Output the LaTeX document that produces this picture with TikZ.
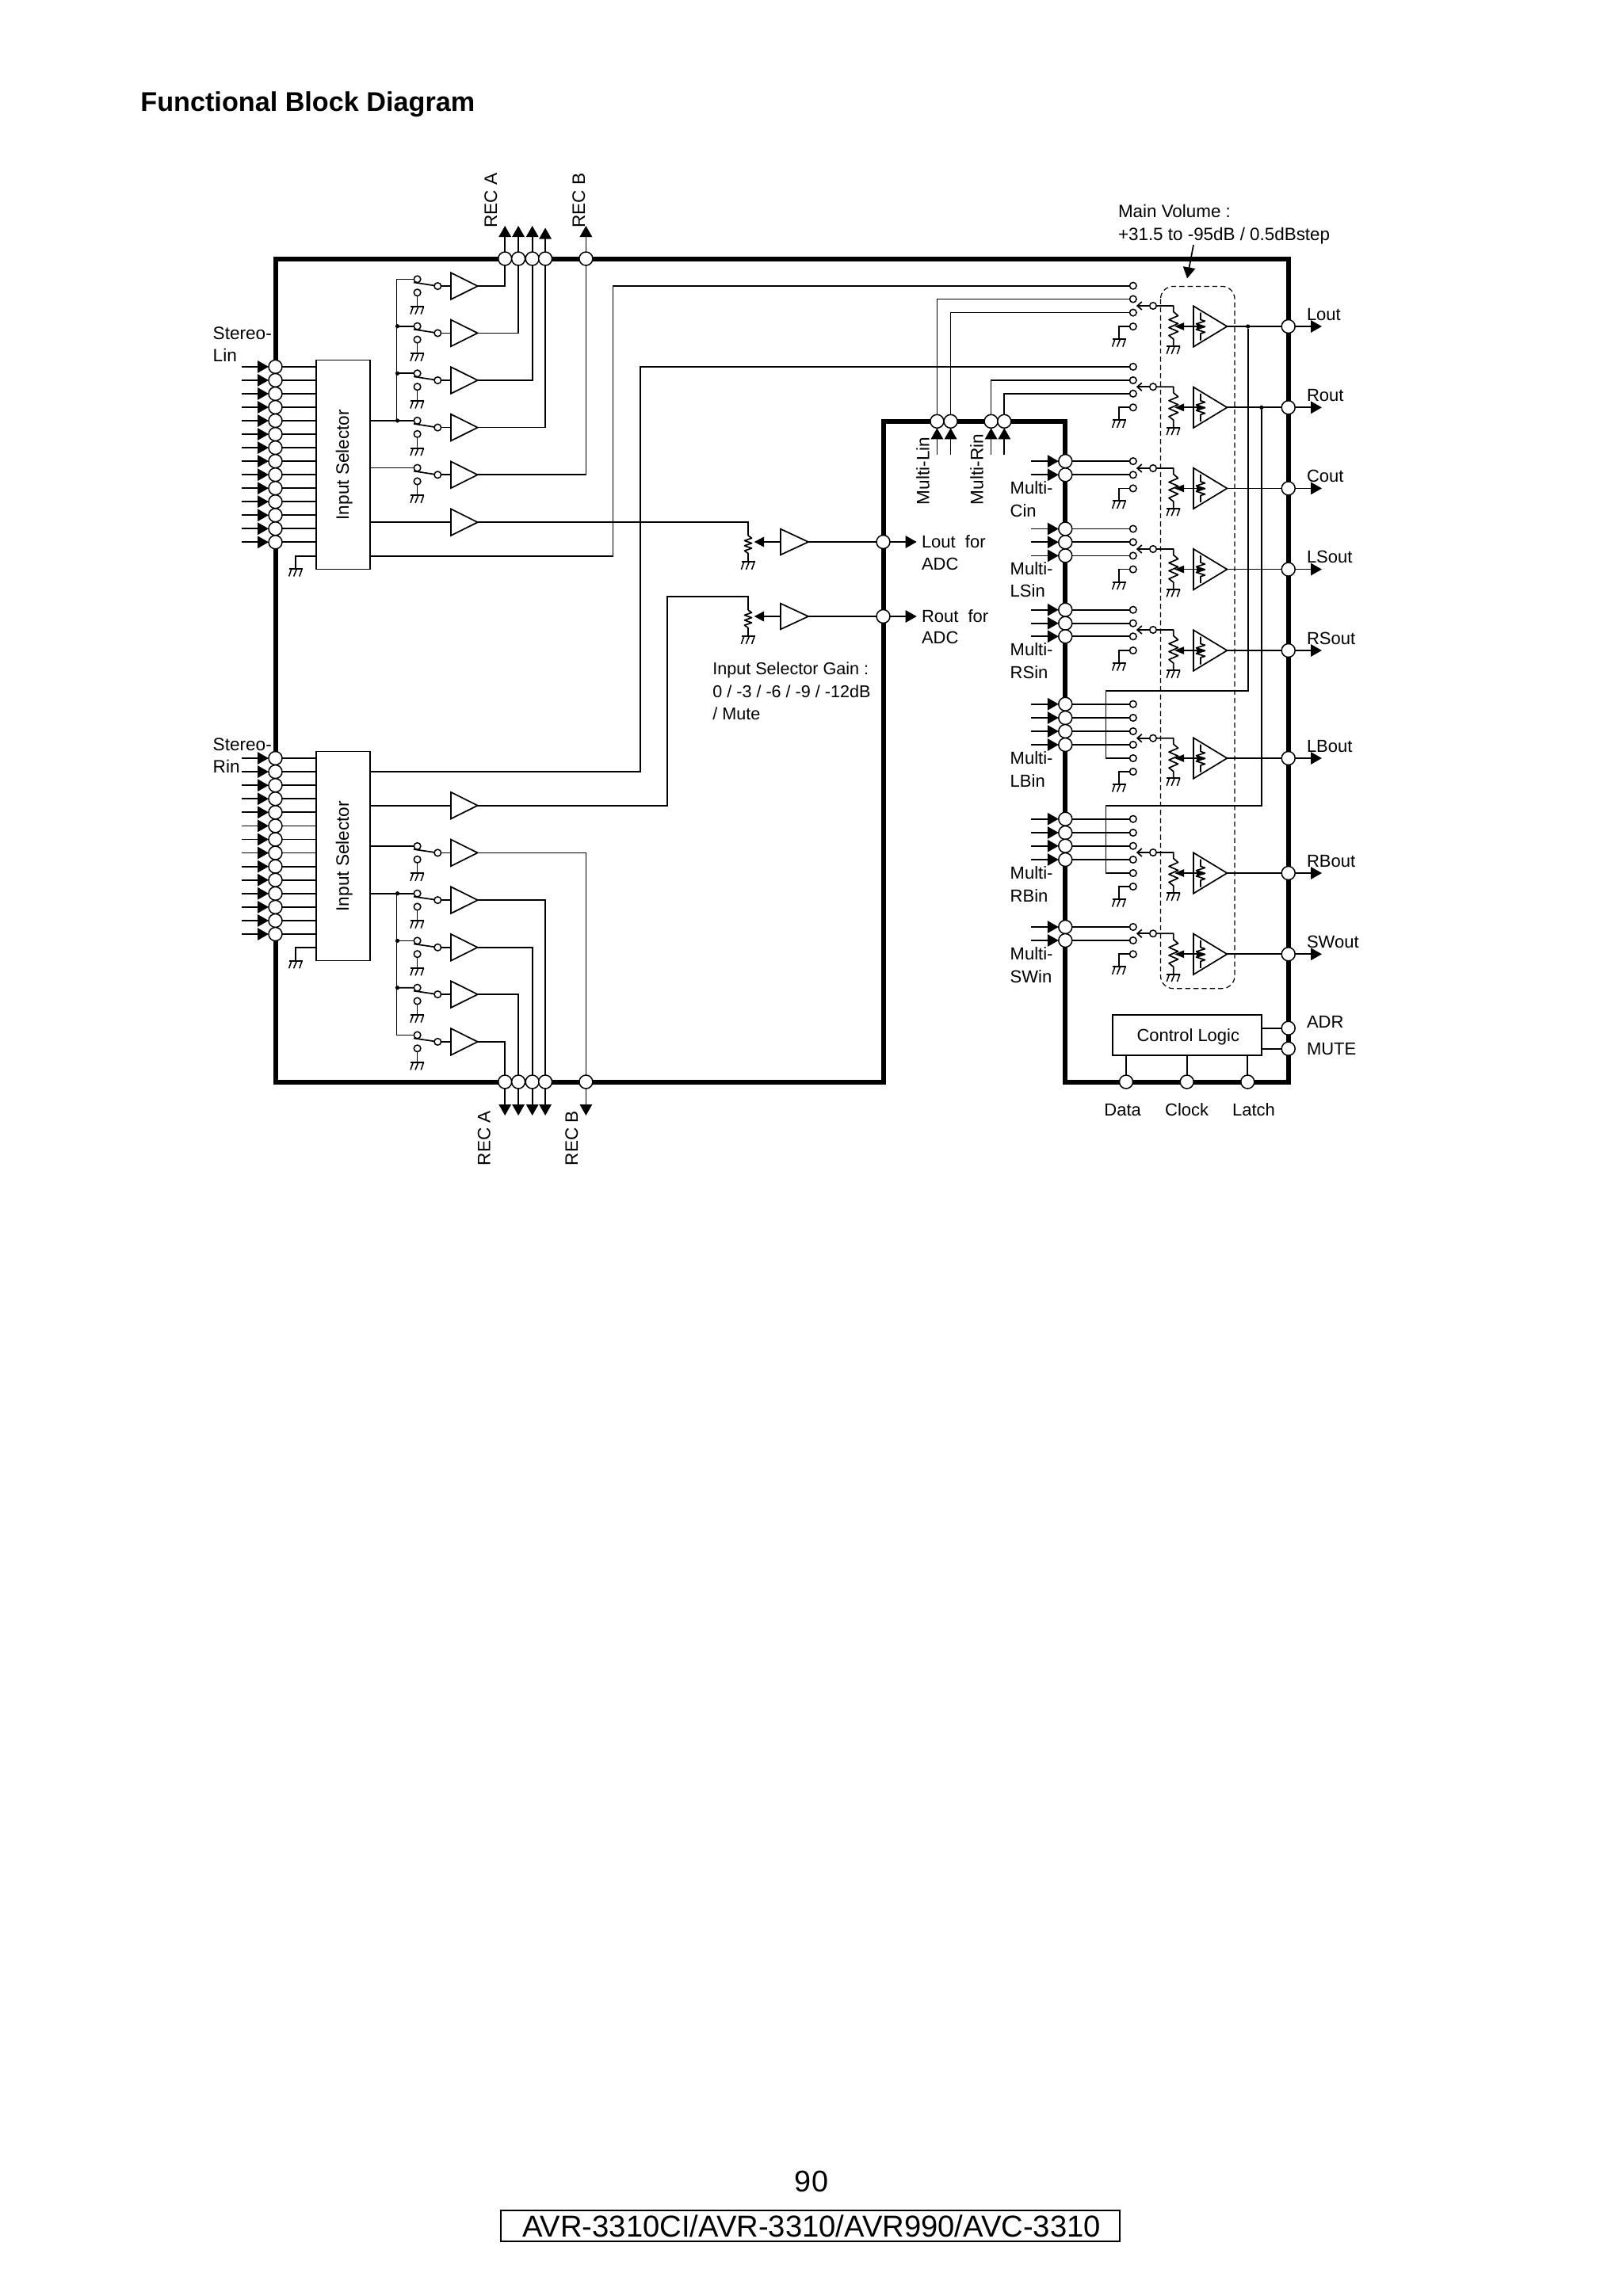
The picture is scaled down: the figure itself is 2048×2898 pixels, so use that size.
\documentclass[tikz,border=0pt]{standalone}
\usepackage{fontspec}
\setmainfont{Liberation Sans}
\usetikzlibrary{arrows.meta,calc,shapes.geometric}
\tikzset{
  wire/.style={line width=0.85pt,line join=miter},
  arr/.style={wire,-{Triangle[length=7pt,width=7.7pt]}},
  arrm/.style={wire,-{Triangle[length=6.2pt,width=6.3pt]}},
  arrw/.style={wire,-{Triangle[length=6pt,width=4.6pt]}},
  arrp/.style={wire,-{Straight Barb[length=2.8pt,width=5pt]}},
  pinn/.style={circle,draw,fill=white,line width=0.75pt,inner sep=0pt,outer sep=0pt,minimum size=8.5pt},
  sc/.style={circle,draw,fill=white,line width=0.75pt,inner sep=0pt,outer sep=0pt,minimum size=4.3pt},
  dotn/.style={circle,fill=black,inner sep=0pt,outer sep=0pt,minimum size=2.6pt},
  blk/.style={rectangle,draw,fill=white,line width=0.85pt,inner sep=0pt,outer sep=0pt},
  buf/.style={isosceles triangle,isosceles triangle stretches,shape border rotate=0,draw,fill=white,line width=0.85pt,inner sep=0pt,outer sep=0pt,minimum width=16.8pt,minimum height=16.85pt,anchor=lower side},
  midbuf/.style={buf,minimum width=16.3pt,minimum height=17.5pt},
  amp/.style={buf,minimum width=25.7pt,minimum height=21.2pt},
  txt/.style={inner sep=0pt,outer sep=0pt,anchor=west,font=\fontsize{11}{13}\selectfont,text height=7.8pt,text depth=0pt},
  rtxt/.style={inner sep=0pt,outer sep=0pt,anchor=west,rotate=90,font=\fontsize{11.3}{13}\selectfont,text height=8.1pt,text depth=0pt},
  gndsym/.pic={
    \draw[line width=1pt] (-8.5,0) -- (8.5,0);
    \draw[line width=0.75pt] (-5.3,0) -- (-8.6,9.5) (1.3,0) -- (-2.6,9.5) (8,0) -- (4.6,9.5);
  }
}
% x y of pin, name
\newcommand\inpin[3]{%
  \node[pinn] (#1) at (#2,#3) {};
  \coordinate (#1s) at ({#2-43},#3);
  \draw[arr] (#1s) -- (#1);
}
% selector-side recording row: name, centre y, in offset, gnd offset
\newcommand\recrow[4]{%
  \node[buf] (#1b) at (569,#2) {};
  \node[sc] (#1o) at (552.3,#2) {};
  \node[sc] (#1i) at (526.6,{#2-#3}) {};
  \node[sc] (#1g) at (526.6,{#2+#4}) {};
  \coordinate (#1k) at (526.6,{#2+26});
  \draw[wire] ($(#1i)+(-4.6,4)$) -- (#1o);
  \draw[wire] (#1o) -- (#1b.lower side);
  \draw[wire] (#1g) -- (#1k);
  \pic at (#1k) {gndsym};
}
% volume channel: name, c, pole y, label
\newcommand\volch[4]{%
  \node[amp] (#1a) at (1506,#2) {};
  \node[pinn] (#1P) at (1625.7,#2) {};
  \coordinate (#1A) at (1668,#2);
  \draw[arr] (#1P) -- (#1A);
  \draw[wire] (#1a.apex) -- (#1P);
  \node[sc] (#1p) at (1455,#3) {};
  \coordinate (#1t) at (1433.9,#3);
  \draw[arrp] (#1p) -- (#1t);
  \coordinate (#1r) at (1480.8,#3);
  \coordinate (#1k) at (1480.8,{#2+25.3});
  \coordinate (#1w) at (1482,#2);
  \draw[wire,line join=round] (#1p) -- (#1r) -- ++(0,7.5) -- ++(5.8,5) -- ++(-11.6,5) -- ++(11.6,5) -- ++(-11.6,5) -- ++(11.6,5) -- ++(-11.6,5) -- ++(5.8,4.5) -- (#1k);
  \pic at (#1k) {gndsym};
  \draw[arrw] (#1a.lower side) -- (#1w);
  \draw[wire,line join=round] (1515,{#2-17.5}) -- (1515,{#2-8.5}) -- ++(5.5,1.8) -- ++(-11,3.5) -- ++(11,3.5) -- ++(-11,3.5) -- ++(11,3.5) -- ++(-5.5,1.7) -- (1515,{#2+17.5});
  \draw[wire] (1506,#2) -- (1511,#2);
  \fill (1519,#2) -- (1510,{#2-3}) -- (1510,{#2+3}) -- cycle;
  \node[txt] (#1l) at (1649,{#2-15.7}) {#4};
}
% switch-contact: name, y
\newcommand\swp[2]{\node[sc] (#1) at (1429.8,#2) {};}
\newcommand\swg[2]{%
  \node[sc] (#1) at (1429.8,#2) {};
  \coordinate (#1k) at (1412.2,{#2+16});
  \draw[wire] (#1) -| (#1k);
  \pic at (#1k) {gndsym};
}
% multichannel input: name, y
\newcommand\mi[2]{%
  \inpin{#1}{1344.3}{#2}
  \swp{#1c}{#2}
  \draw[wire] (#1) -- (#1c);
}
\begin{document}
\begin{tikzpicture}[x=0.5pt,y=-0.5pt]
\useasboundingbox (0,0) rectangle (2048,2898);
\fill[white] (0,0) rectangle (2048,2898);
% title
\node[inner sep=0pt,anchor=base west,font=\fontsize{17.1}{20}\selectfont\bfseries] (title) at (177,140) {Functional Block Diagram};
% frame
\draw[line width=3pt,line join=miter] (347.5,326.5) -- (1625.7,326.5) -- (1625.7,1365.5) -- (1344.3,1365.5) -- (1344.3,531.8) -- (1114.5,531.8) -- (1114.5,1365.5) -- (347.5,1365.5) -- cycle;
% dashed volume box
\draw[line width=0.6pt,dash pattern=on 3.2pt off 2pt,rounded corners=8pt] (1464.5,361.4) rectangle (1558,1247.7);
\coordinate (mvs) at (1506,309);
\coordinate (mve) at (1498,351.4);
\draw[arr] (mvs) -- (mve);
\node[txt,font=\fontsize{11.2}{13}\selectfont] (mv1) at (1411,266.8) {Main Volume :};
\node[txt,font=\fontsize{11.2}{13}\selectfont] (mv2) at (1411,296) {+31.5 to -95dB / 0.5dBstep};
% selectors
\node[blk,minimum width=34.1pt,minimum height=132pt] (selL) at (432.9,586.6) {};
\node[rtxt,anchor=center] (selLt) at (432,586.6) {Input Selector};
\node[blk,minimum width=34.1pt,minimum height=132pt] (selR) at (432.9,1080.6) {};
\node[rtxt,anchor=center] (selRt) at (432,1080.6) {Input Selector};
\foreach \i in {0,...,13}{
  \pgfmathsetmacro\yy{462.9+17.03*\i}
  \inpin{LP\i}{347.5}{\yy}
  \draw[wire] (LP\i) -- (selL.west |- LP\i);
  \pgfmathsetmacro\yz{957+17.08*\i}
  \inpin{RP\i}{347.5}{\yz}
  \draw[wire] (RP\i) -- (selR.west |- RP\i);
}
\node[txt,font=\fontsize{11.3}{13}\selectfont] (sl1) at (268.7,420.4) {Stereo-};
\node[txt,font=\fontsize{11.3}{13}\selectfont] (sl2) at (268.7,449) {Lin};
\node[txt,font=\fontsize{11.3}{13}\selectfont] (sr1) at (268.7,939.4) {Stereo-};
\node[txt,font=\fontsize{11.3}{13}\selectfont] (sr2) at (268.7,968) {Rin};
% selector grounds
\coordinate (selLg) at (398.8,701.8);
\coordinate (selLk) at (373.2,718);
\draw[wire] (selLg) -| (selLk);
\pic at (selLk) {gndsym};
\coordinate (selRg) at (398.8,1195.8);
\coordinate (selRk) at (373.2,1212.7);
\draw[wire] (selRg) -| (selRk);
\pic at (selRk) {gndsym};
% REC pins
\foreach \n/\x in {A1/637.2,A2/654.1,A3/671.7,A4/688.1,B1/739.4}{
  \node[pinn] (T\n) at (\x,326.5) {};
  \node[pinn] (B\n) at (\x,1365.5) {};
}
\foreach \n/\x/\t/\b in {A1/637.2/285/1408,A2/654.1/285/1408,A3/671.7/285/1408,A4/688.1/287.5/1408,B1/739.4/285/1408}{
  \coordinate (T\n a) at (\x,\t);
  \coordinate (B\n a) at (\x,\b);
  \draw[arr] (T\n) -- (T\n a);
  \draw[arr] (B\n) -- (B\n a);
}
\node[rtxt] (recta) at (618.9,287.5) {REC A};
\node[rtxt] (rectb) at (729.9,287.5) {REC B};
\node[rtxt] (recba) at (610.5,1471) {REC A};
\node[rtxt] (recbb) at (721,1471) {REC B};
% left top rows
\foreach \n/\y in {1/361.1,2/420.4,3/480,4/539.6,5/599.3}{\recrow{L\n}{\y}{8.7}{8.2}}
\node[buf] (L6b) at (569,659.2) {};
\draw[wire] (L1b.apex) -| (TA1);
\draw[wire] (L2b.apex) -| (TA2);
\draw[wire] (L3b.apex) -| (TA3);
\draw[wire] (L4b.apex) -| (TA4);
\draw[wire] (L5b.apex) -| (TB1);
\coordinate (busLt) at (500.6,352.4);
\coordinate (busLb) at (500.6,530.9);
\draw[wire] (L1i) -- (busLt) -- (busLb);
\foreach \n/\y in {2/411.7,3/471.3,4/530.9}{
  \node[dotn] (Ld\n) at (501.5,\y) {};
  \draw[wire] (Ld\n) -- (L\n i);
}
\draw[wire] (selL.east |- Ld4) -- (Ld4);
\coordinate (selL5) at (467,590.6);
\draw[wire] (selL5) -- (L5i);
\draw[wire] (selL.east |- L6b.lower side) -- (L6b.lower side);
% top selector to main switch
\node[sc] (LOa) at (1429.8,360.7) {};
\coordinate (selLa) at (467,701.8);
\coordinate (k3) at (773.5,360.7);
\draw[wire] (selLa) -| (k3) -- (LOa);
% bottom rows
\foreach \n/\y in {2/1076.4,3/1136.1,4/1195.8,5/1255.1,6/1314.9}{\recrow{R\n}{\y}{8.4}{8.4}}
\node[buf] (R1b) at (569,1016.7) {};
\draw[wire] (selR.east |- R1b.lower side) -- (R1b.lower side);
\draw[wire] (R2b.apex) -| (BB1);
\draw[wire] (R3b.apex) -| (BA4);
\draw[wire] (R4b.apex) -| (BA3);
\draw[wire] (R5b.apex) -| (BA2);
\draw[wire] (R6b.apex) -| (BA1);
\draw[wire] (selR.east |- R2i) -- (R2i);
\coordinate (busRt) at (500.6,1127.7);
\coordinate (busRb) at (500.6,1306.5);
\draw[wire] (busRt) -- (busRb) -- (R6i);
\node[dotn] (Rd3) at (501.5,1127.7) {};
\node[dotn] (Rd4) at (501.5,1187.4) {};
\node[dotn] (Rd5) at (501.5,1246.7) {};
\draw[wire] (selR.east |- R3i) -- (R3i);
\draw[wire] (Rd4) -- (R4i);
\draw[wire] (Rd5) -- (R5i);
\node[sc] (ROa) at (1429.8,462.9) {};
\coordinate (selRa) at (467,973.9);
\coordinate (k4) at (808,462.9);
\draw[wire] (selRa) -| (k4) -- (ROa);
% mid resistors and ADC outs
\foreach \n/\y/\t/\u/\l/\m in {1/684/676/709.3/Lout/711.7,2/778/770/803.3/Rout/805}{
  \node[midbuf] (M\n b) at (985,\y) {};
  \node[pinn] (M\n P) at (1114.5,\y) {};
  \coordinate (M\n A) at (1156.7,\y);
  \draw[arr] (M\n P) -- (M\n A);
  \draw[wire] (M\n b.apex) -- (M\n P);
  \coordinate (M\n w) at (951.7,\y);
  \draw[arrm] (M\n b.lower side) -- (M\n w);
  \coordinate (M\n t) at (944,\t);
  \coordinate (M\n k) at (944,\u);
  \draw[wire,line join=round] (M\n t) -- ++(4.5,3.2) -- ++(-9,3.2) -- ++(9,3.2) -- ++(-9,3.2) -- ++(9,3.2) -- ++(-9,3.2) -- ++(4.5,3.2) -- (M\n k);
  \pic at (M\n k) {gndsym};
  \node[txt] (M\n x) at (1163,\y) {\l\ \hspace{3pt}for};
  \node[txt] (M\n y) at (1163,\m) {ADC};
}
\draw[wire] (L6b.apex) -| (M1t);
\coordinate (k2) at (841.7,752.7);
\draw[wire] (R1b.apex) -| (k2) -| (M2t);
\node[txt,font=\fontsize{10.8}{13}\selectfont] (g1) at (899.3,844) {Input Selector Gain :};
\node[txt,font=\fontsize{10.8}{13}\selectfont] (g2) at (899.3,873) {0 / -3 / -6 / -9 / -12dB};
\node[txt,font=\fontsize{10.8}{13}\selectfont] (g3) at (899.3,901) {/ Mute};
% Multi L/R pins
\foreach \n/\x/\y/\c in {a/1182.4/377.5/1,b/1199.6/394.6/2,c/1250.6/480/3,d/1267.3/496.8/4}{
  \node[pinn] (U\n) at (\x,531.8) {};
  \coordinate (U\n s) at (\x,573.6);
  \draw[arr] (U\n s) -- (U\n);
  \swp{U\n c}{\y}
  \draw[wire] (U\n) |- (U\n c);
}
\node[rtxt] (mlin) at (1164.5,637) {Multi-Lin};
\node[rtxt] (mrin) at (1232.6,637) {Multi-Rin};
% multi inputs
\foreach \n/\y in {C1/582.1,C2/599.3,S1/667.5,S2/684.3,S3/701.4,T1/769.7,T2/786.7,T3/803.3,Q1/888.7,Q2/906,Q3/923,Q4/940,W1/1033.7,W2/1051,W3/1067.7,W4/1085,Z1/1170,Z2/1187}{\mi{\n}{\y}}
\foreach \a/\b/\y in {Multi-/Cin/615.7,Multi-/LSin/717.5,Multi-/RSin/820,Multi-/LBin/956.7,Multi-/RBin/1101.7,Multi-/SWin/1204}{
  \node[txt] at (1274.7,\y) {\a};
  \node[txt] at (1274.7,{\y+28.5}) {\b};
}
% volume channels
\volch{VL}{412}{386}{Lout}
\volch{VR}{514.3}{488.2}{Rout}
\volch{VC}{616.4}{591}{Cout}
\volch{VS}{718.6}{693}{LSout}
\volch{VT}{821}{795}{RSout}
\volch{VB}{957}{931.7}{LBout}
\volch{VW}{1102}{1076}{RBout}
\volch{VZ}{1204.3}{1178.3}{SWout}
% ground contacts
\swg{gL}{412.1}
\swg{gR}{514.3}
\swg{gC}{616.4}
\swg{gS}{718.6}
\swg{gT}{821}
\swg{gB}{974}
\swg{gW}{1119}
\swg{gZ}{1204.3}
% feedback contacts
\swp{fB}{957}
\swp{fW}{1102}
\node[dotn] (dL) at (1574.7,412) {};
\node[dotn] (dR) at (1591.8,514.3) {};
\coordinate (kB) at (1395.6,871.7);
\coordinate (kBa) at (1574.7,871.7);
\coordinate (kW) at (1395.6,1016.7);
\coordinate (kWa) at (1591.8,1016.7);
\draw[wire] (dL) -- (kBa) -- (kB) |- (fB);
\draw[wire] (dR) -- (kWa) -- (kW) |- (fW);
% control logic
\node[blk,minimum width=94pt,minimum height=25.65pt] (ctrl) at (1497.7,1306.35) {};
\node[txt,anchor=center] (ctrlt) at (1499.3,1307) {Control Logic};
\node[pinn] (adr) at (1625.7,1297.7) {};
\node[pinn] (mute) at (1625.7,1323.7) {};
\node[pinn] (data) at (1421,1365.5) {};
\node[pinn] (clock) at (1497.7,1365.5) {};
\node[pinn] (latch) at (1574.3,1365.5) {};
\draw[wire] (ctrl.east |- adr) -- (adr);
\draw[wire] (ctrl.east |- mute) -- (mute);
\draw[wire] (ctrl.south -| data) -- (data);
\draw[wire] (ctrl.south -| clock) -- (clock);
\draw[wire] (ctrl.south -| latch) -- (latch);
\node[txt] (adrl) at (1649,1290) {ADR};
\node[txt] (mutel) at (1649,1324) {MUTE};
\node[txt,anchor=center] (datal) at (1416.7,1400.7) {Data};
\node[txt,anchor=center] (clockl) at (1497.7,1400.7) {Clock};
\node[txt,anchor=center] (latchl) at (1582,1400.7) {Latch};
% footer
\node[inner sep=0pt,font=\fontsize{18.9}{22}\selectfont,text height=13.5pt,text depth=0pt] (pg) at (1024,2753) {90};
\node[rectangle,draw,line width=1pt,inner sep=0pt,minimum width=390.7pt,minimum height=19.5pt] (modelbox) at (1022.3,2809.5) {};
\node[inner sep=0pt,font=\fontsize{19.1}{22}\selectfont,text height=13.5pt,text depth=0pt] (model) at (1024,2810) {AVR-3310CI/AVR-3310/AVR990/AVC-3310};
\end{tikzpicture}
\end{document}
